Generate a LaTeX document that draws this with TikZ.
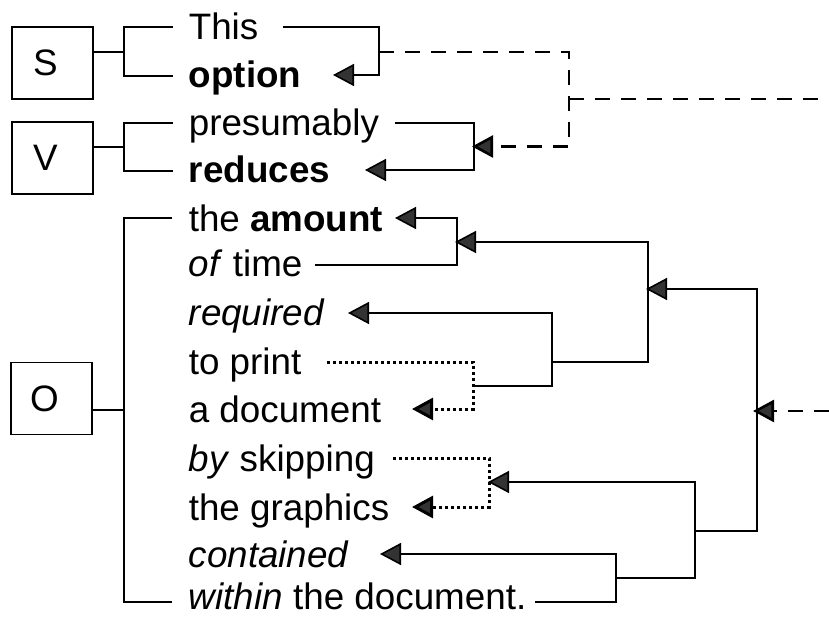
\documentclass[tikz,border=0pt]{standalone}
\usepackage{fontspec}
\setmainfont{Liberation Sans}
\usetikzlibrary{arrows.meta}
\begin{document}
\begin{tikzpicture}[x=1pt,y=-1pt,line width=1.6pt,
  font=\fontsize{36.8}{40}\selectfont,
  box/.style={draw,rectangle,inner sep=0pt,minimum width=81pt,minimum height=72pt},
  word/.style={anchor=base west,inner sep=0pt},
  arr/.style={-{Triangle[length=21pt,width=22pt,fill=black!80]}},
  dsh/.style={line width=2.6pt,dash pattern=on 15pt off 11pt},
  dotl/.style={line width=3pt,dash pattern=on 3pt off 3pt}]
\useasboundingbox (0,0) rectangle (829,617);
% boxes
\node[box] (S) at (52.5,63) {S\hspace*{14pt}};
\node[box] (V) at (52.5,158) {V\hspace*{14pt}};
\node[box] (O) at (51.5,398.5) {O\hspace*{14pt}};
% words
\node[word] (w1)  at (188,40)  {This};
\node[word] (w2)  at (188,88)  {\textbf{option}};
\node[word] (w3)  at (188,136) {presumably};
\node[word] (w4)  at (188,183) {\textbf{reduces}};
\node[word] (w5)  at (188,232) {the \textbf{amount}};
\node[word] (w6)  at (188,277) {\textit{of} time};
\node[word] (w7)  at (188,325) {\textit{required}};
\node[word] (w8)  at (188,374) {to print};
\node[word] (w9)  at (188,422) {a document};
\node[word] (w10) at (188,471) {\textit{by} skipping};
\node[word] (w11) at (188,520) {the graphics};
\node[word] (w12) at (188,567) {\textit{contained}};
\node[word] (w13) at (188,609) {\textit{within} the document.};
% left brackets
\coordinate (sb) at (124,52);  \coordinate (sT) at (173,27);  \coordinate (sB) at (173,76);
\coordinate (vb) at (124,147); \coordinate (vT) at (173,123); \coordinate (vB) at (173,171);
\coordinate (ob) at (124,410); \coordinate (oT) at (172,218); \coordinate (oB) at (172,602);
\draw (S.east |- sb) -- (sb);
\draw (sT) -| (sb) |- (sB);
\draw (V.east |- vb) -- (vb);
\draw (vT) -| (vb) |- (vB);
\draw (O.east |- ob) -- (ob);
\draw (oT) -| (ob) |- (oB);
% junctions and ends
\coordinate (s1) at (283,27);  \coordinate (j1) at (379,52);  \coordinate (e1) at (333,75);
\coordinate (s2) at (395,123); \coordinate (j2) at (474,146.5); \coordinate (e2) at (365,170);
\coordinate (dc) at (569,99);  \coordinate (dR) at (829,99);
\coordinate (s4) at (315,265); \coordinate (j4) at (457,242); \coordinate (e4) at (395,218);
\coordinate (j5) at (552,362); \coordinate (e5) at (348,313);
\coordinate (s6) at (327,362); \coordinate (j6) at (473,386); \coordinate (e6) at (412,409);
\coordinate (j7) at (648,289);
\coordinate (s8) at (393,458); \coordinate (j8) at (489,482); \coordinate (e8) at (412,507);
\coordinate (s9) at (535,602); \coordinate (j9) at (616,578); \coordinate (e9) at (380,554);
\coordinate (j10) at (695,531);
\coordinate (j11) at (757,411); \coordinate (dR2) at (829,411);
% connectors
\draw[arr] (s1) -| (j1) |- (e1);
\draw[arr] (s2) -| (j2) |- (e2);
\draw[dsh,arr,shorten >=-2pt] (j1) -| (dc) |- (j2);
\draw[dsh] (dc) -- (dR);
\draw[arr] (s4) -| (j4) |- (e4);
\draw[dotl,arr] (s6) -| (j6) |- (e6);
\draw[arr] (j6) -| (j5) |- (e5);
\draw[arr,shorten >=-2pt] (j5) -| (j7) |- (j4);
\draw[dotl,arr] (s8) -| (j8) |- (e8);
\draw[arr] (s9) -| (j9) |- (e9);
\draw[arr,shorten >=-1pt] (j9) -| (j10) |- (j8);
\draw[arr,shorten >=-2pt] (j10) -| (j11) |- (j7);
\draw[dsh,arr,shorten >=-4pt] (dR2) -- (j11);
\end{tikzpicture}
\end{document}
